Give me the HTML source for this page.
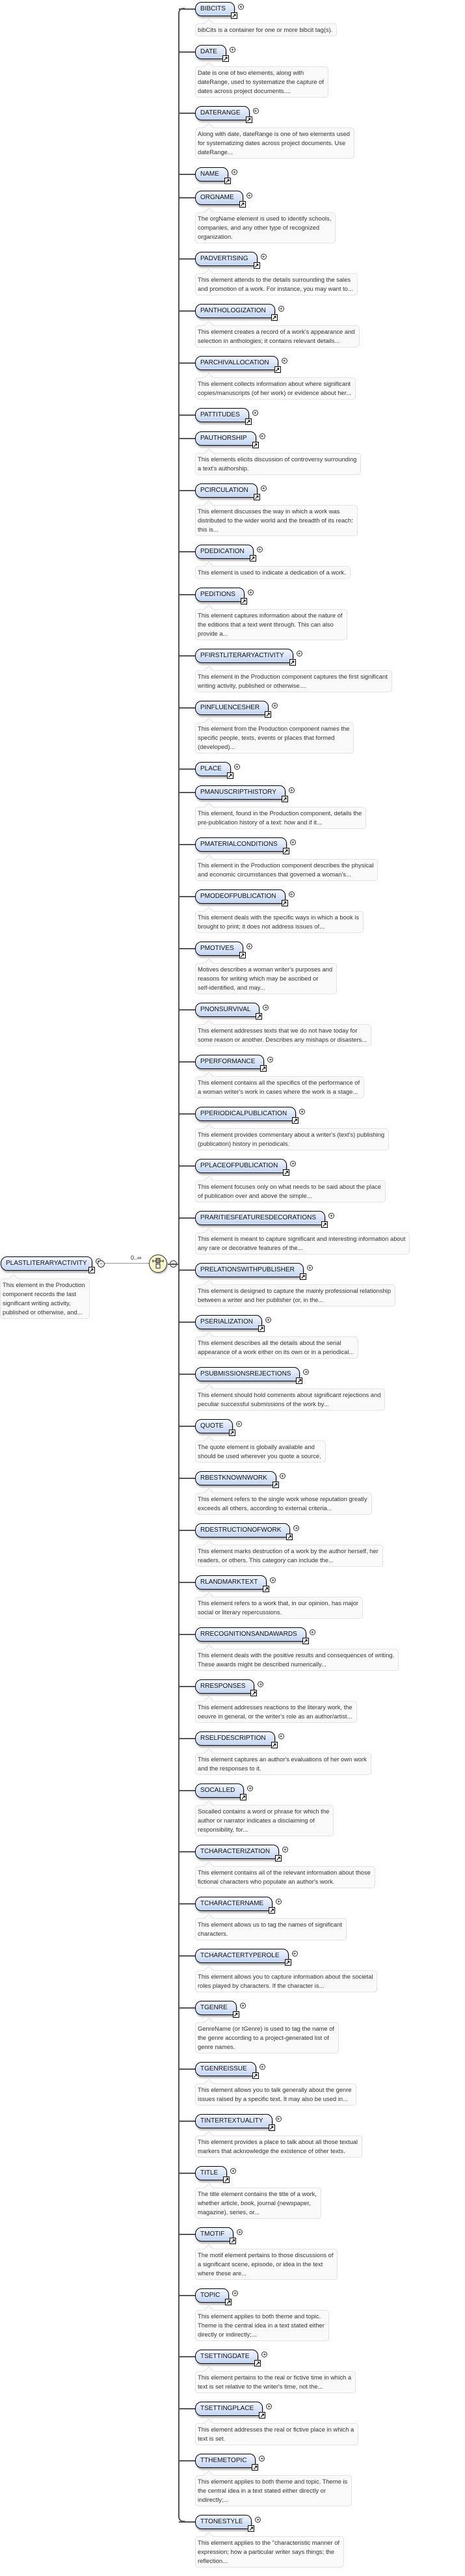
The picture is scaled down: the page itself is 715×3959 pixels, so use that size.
<!DOCTYPE html>
<html><head><meta charset="utf-8">
<style>
html,body{margin:0;padding:0;background:#fff;}
body{width:715px;height:3947px;position:relative;overflow:hidden;font-family:"Liberation Sans",sans-serif;}
#list{position:absolute;left:300px;top:3px;width:415px;}
.r{position:relative;height:22px;margin-bottom:14px;}
.r.d{margin-bottom:11px;}
.r:before{content:'';position:absolute;left:-25px;top:10px;width:25px;height:2px;background:#555;}
.p{display:inline-block;height:20px;line-height:20px;border:1px solid #000;border-radius:10px 9px 3px 10px;background:linear-gradient(#f2f6fd,#c2d5f2);padding:0 13px 0 7px;font-size:10px;color:#111;position:relative;box-shadow:1px 3px 2px rgba(0,0,0,.28);white-space:nowrap;}
.p:after{content:'\2197';position:absolute;right:-5px;bottom:-5px;width:8px;height:8px;border:1px solid #000;background:#fff;font-size:9px;line-height:8px;text-align:center;font-weight:bold;color:#000;}
.p:before{content:'+';position:absolute;right:-15px;top:2px;width:7px;height:7px;border:1px solid #333;border-radius:50%;background:#fff;font-size:8px;line-height:7px;text-align:center;color:#000;}
.b{display:block;width:max-content;margin-bottom:13px;border:1px solid #e2e2e2;border-radius:5px;background:#fafafa;padding:2px 6px 2px 3px;font-size:9.4px;line-height:14px;color:#333;white-space:nowrap;position:relative;}
.b:before{content:'';position:absolute;left:15px;top:-6px;width:9px;height:9px;background:#fafafa;border-left:1px solid #e2e2e2;border-top:1px solid #e2e2e2;transform:rotate(45deg);}
#vl{position:absolute;left:274px;top:12px;width:10px;height:3864px;border-left:2px solid #555;border-top:2px solid #555;border-bottom:2px solid #555;border-radius:8px 0 0 8px;box-sizing:border-box;}
</style></head><body>
<div id="vl"></div>

<div style="position:absolute;left:1px;top:1931px;">
<div class="p" style="font-size:10px;padding:0 7px 0 7px;border-radius:10px 8px 8px 10px;">PLASTLITERARYACTIVITY</div>
</div>
<div style="position:absolute;left:150px;top:1937px;width:9px;height:9px;border:1px solid #333;border-radius:50%;font-size:9px;line-height:9px;text-align:center;background:#fff;">&minus;</div>
<div style="position:absolute;left:161px;top:1941px;width:68px;height:1px;background:#999;"></div>
<div style="position:absolute;left:201px;top:1928px;font-size:9px;color:#222;">0..&infin;</div>
<div style="position:absolute;left:229px;top:1928px;width:26px;height:26px;border:1px solid #333;border-radius:50%;background:#fdf8c8;box-shadow:1px 2px 2px rgba(0,0,0,.3);">
<svg width="26" height="26" viewBox="0 0 26 26"><line x1="5" y1="9" x2="21" y2="9" stroke="#222" stroke-width="1"/><line x1="5" y1="7" x2="5" y2="11" stroke="#222"/><line x1="21" y1="7" x2="21" y2="11" stroke="#222"/><rect x="10" y="5" width="6" height="7" fill="#999" stroke="#222"/><rect x="10" y="14" width="6" height="6" fill="#fff" stroke="#222"/></svg></div>
<div style="position:absolute;left:261px;top:1937px;width:9px;height:9px;border:1px solid #333;border-radius:50%;font-size:9px;line-height:9px;text-align:center;background:#fff;">&minus;</div>
<div style="position:absolute;left:258px;top:1942px;width:17px;height:2px;background:#555;"></div>
<div class="b" style="position:absolute;left:0;top:1965px;">This element in the Production<br>component records the last<br>significant writing activity,<br>published or otherwise, and...</div>

<div id="list">
<div class="r d"><span class="p">BIBCITS</span></div><div class="b">bibCits is a container for one or more bibcit tag(s).</div>
<div class="r d"><span class="p">DATE</span></div><div class="b">Date is one of two elements, along with<br>dateRange, used to systematize the capture of<br>dates across project documents....</div>
<div class="r d"><span class="p">DATERANGE</span></div><div class="b">Along with date, dateRange is one of two elements used<br>for systematizing dates across project documents. Use<br>dateRange...</div>
<div class="r"><span class="p">NAME</span></div>
<div class="r d"><span class="p">ORGNAME</span></div><div class="b">The orgName element is used to identify schools,<br>companies, and any other type of recognized<br>organization.</div>
<div class="r d"><span class="p">PADVERTISING</span></div><div class="b">This element attends to the details surrounding the sales<br>and promotion of a work. For instance, you may want to...</div>
<div class="r d"><span class="p">PANTHOLOGIZATION</span></div><div class="b">This element creates a record of a work's appearance and<br>selection in anthologies; it contains relevant details...</div>
<div class="r d"><span class="p">PARCHIVALLOCATION</span></div><div class="b">This element collects information about where significant<br>copies/manuscripts (of her work) or evidence about her...</div>
<div class="r"><span class="p">PATTITUDES</span></div>
<div class="r d"><span class="p">PAUTHORSHIP</span></div><div class="b">This elements elicits discussion of controversy surrounding<br>a text's authorship.</div>
<div class="r d"><span class="p">PCIRCULATION</span></div><div class="b">This element discusses the way in which a work was<br>distributed to the wider world and the breadth of its reach:<br>this is...</div>
<div class="r d"><span class="p">PDEDICATION</span></div><div class="b">This element is used to indicate a dedication of a work.</div>
<div class="r d"><span class="p">PEDITIONS</span></div><div class="b">This element captures information about the nature of<br>the editions that a text went through. This can also<br>provide a...</div>
<div class="r d"><span class="p">PFIRSTLITERARYACTIVITY</span></div><div class="b">This element in the Production component captures the first significant<br>writing activity, published or otherwise....</div>
<div class="r d"><span class="p">PINFLUENCESHER</span></div><div class="b">This element from the Production component names the<br>specific people, texts, events or places that formed<br>(developed)...</div>
<div class="r"><span class="p">PLACE</span></div>
<div class="r d"><span class="p">PMANUSCRIPTHISTORY</span></div><div class="b">This element, found in the Production component, details the<br>pre-publication history of a text: how and if it...</div>
<div class="r d"><span class="p">PMATERIALCONDITIONS</span></div><div class="b">This element in the Production component describes the physical<br>and economic circumstances that governed a woman's...</div>
<div class="r d"><span class="p">PMODEOFPUBLICATION</span></div><div class="b">This element deals with the specific ways in which a book is<br>brought to print; it does not address issues of...</div>
<div class="r d"><span class="p">PMOTIVES</span></div><div class="b">Motives describes a woman writer's purposes and<br>reasons for writing which may be ascribed or<br>self-identified, and may...</div>
<div class="r d"><span class="p">PNONSURVIVAL</span></div><div class="b">This element addresses texts that we do not have today for<br>some reason or another. Describes any mishaps or disasters...</div>
<div class="r d"><span class="p">PPERFORMANCE</span></div><div class="b">This element contains all the specifics of the performance of<br>a woman writer's work in cases where the work is a stage...</div>
<div class="r d"><span class="p">PPERIODICALPUBLICATION</span></div><div class="b">This element provides commentary about a writer's (text's) publishing<br>(publication) history in periodicals.</div>
<div class="r d"><span class="p">PPLACEOFPUBLICATION</span></div><div class="b">This element focuses only on what needs to be said about the place<br>of publication over and above the simple...</div>
<div class="r d"><span class="p">PRARITIESFEATURESDECORATIONS</span></div><div class="b">This element is meant to capture significant and interesting information about<br>any rare or decorative features of the...</div>
<div class="r d"><span class="p">PRELATIONSWITHPUBLISHER</span></div><div class="b">This element is designed to capture the mainly professional relationship<br>between a writer and her publisher (or, in the...</div>
<div class="r d"><span class="p">PSERIALIZATION</span></div><div class="b">This element describes all the details about the serial<br>appearance of a work either on its own or in a periodical...</div>
<div class="r d"><span class="p">PSUBMISSIONSREJECTIONS</span></div><div class="b">This element should hold comments about significant rejections and<br>peculiar successful submissions of the work by...</div>
<div class="r d"><span class="p">QUOTE</span></div><div class="b">The quote element is globally available and<br>should be used wherever you quote a source.</div>
<div class="r d"><span class="p">RBESTKNOWNWORK</span></div><div class="b">This element refers to the single work whose reputation greatly<br>exceeds all others, according to external criteria...</div>
<div class="r d"><span class="p">RDESTRUCTIONOFWORK</span></div><div class="b">This element marks destruction of a work by the author herself, her<br>readers, or others. This category can include the...</div>
<div class="r d"><span class="p">RLANDMARKTEXT</span></div><div class="b">This element refers to a work that, in our opinion, has major<br>social or literary repercussions.</div>
<div class="r d"><span class="p">RRECOGNITIONSANDAWARDS</span></div><div class="b">This element deals with the positive results and consequences of writing.<br>These awards might be described numerically...</div>
<div class="r d"><span class="p">RRESPONSES</span></div><div class="b">This element addresses reactions to the literary work, the<br>oeuvre in general, or the writer's role as an author/artist...</div>
<div class="r d"><span class="p">RSELFDESCRIPTION</span></div><div class="b">This element captures an author's evaluations of her own work<br>and the responses to it.</div>
<div class="r d"><span class="p">SOCALLED</span></div><div class="b">Socalled contains a word or phrase for which the<br>author or narrator indicates a disclaiming of<br>responsibility, for...</div>
<div class="r d"><span class="p">TCHARACTERIZATION</span></div><div class="b">This element contains all of the relevant information about those<br>fictional characters who populate an author's work.</div>
<div class="r d"><span class="p">TCHARACTERNAME</span></div><div class="b">This element allows us to tag the names of significant<br>characters.</div>
<div class="r d"><span class="p">TCHARACTERTYPEROLE</span></div><div class="b">This element allows you to capture information about the societal<br>roles played by characters. If the character is...</div>
<div class="r d"><span class="p">TGENRE</span></div><div class="b">GenreName (or tGenre) is used to tag the name of<br>the genre according to a project-generated list of<br>genre names.</div>
<div class="r d"><span class="p">TGENREISSUE</span></div><div class="b">This element allows you to talk generally about the genre<br>issues raised by a specific text. It may also be used in...</div>
<div class="r d"><span class="p">TINTERTEXTUALITY</span></div><div class="b">This element provides a place to talk about all those textual<br>markers that acknowledge the existence of other texts.</div>
<div class="r d"><span class="p">TITLE</span></div><div class="b">The title element contains the title of a work,<br>whether article, book, journal (newspaper,<br>magazine), series, or...</div>
<div class="r d"><span class="p">TMOTIF</span></div><div class="b">The motif element pertains to those discussions of<br>a significant scene, episode, or idea in the text<br>where these are...</div>
<div class="r d"><span class="p">TOPIC</span></div><div class="b">This element applies to both theme and topic.<br>Theme is the central idea in a text stated either<br>directly or indirectly;...</div>
<div class="r d"><span class="p">TSETTINGDATE</span></div><div class="b">This element pertains to the real or fictive time in which a<br>text is set relative to the writer's time, not the...</div>
<div class="r d"><span class="p">TSETTINGPLACE</span></div><div class="b">This element addresses the real or fictive place in which a<br>text is set.</div>
<div class="r d"><span class="p">TTHEMETOPIC</span></div><div class="b">This element applies to both theme and topic. Theme is<br>the central idea in a text stated either directly or<br>indirectly;...</div>
<div class="r d"><span class="p">TTONESTYLE</span></div><div class="b">This element applies to the "characteristic manner of<br>expression; how a particular writer says things; the<br>reflection...</div>
</div>
</body></html>
